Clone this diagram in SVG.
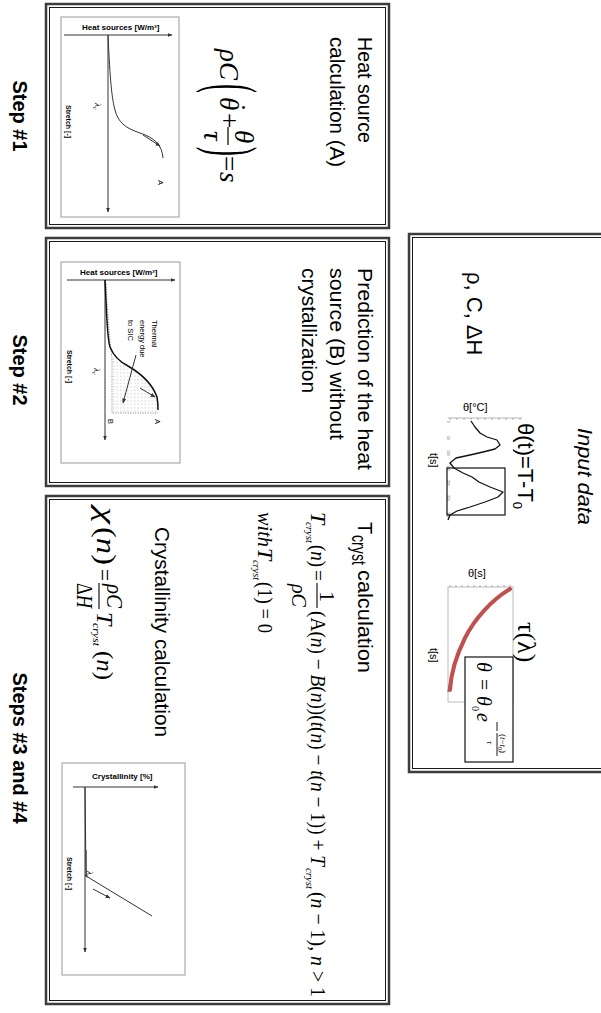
<svg xmlns="http://www.w3.org/2000/svg" width="601" height="1013" viewBox="0 0 601 1013">
<style>
.bo{fill:none;stroke:#3c3c3c;stroke-width:2.5}
.bi{fill:#fff;stroke:#1a1a1a;stroke-width:1}
.sans{font-family:"Liberation Sans",Arial,sans-serif;fill:#000}
.serif{font-family:"Liberation Serif","Times New Roman",serif;fill:#000}
.it{font-style:italic}
.up{font-style:normal}
.step{font-family:"Liberation Sans",Arial,sans-serif;font-weight:bold;font-size:20px;text-anchor:middle}
.lbl{font-family:"Liberation Sans",Arial,sans-serif;font-size:20px}
.gbox{fill:none;stroke:#9a9a9a;stroke-width:1}
.ax{fill:none;stroke:#333;stroke-width:1;marker-end:url(#ah)}
.cv{fill:none;stroke:#333;stroke-width:1}
.axl{font-family:"Liberation Sans",Arial,sans-serif;font-weight:bold;font-size:8px}
.st{font-family:"Liberation Sans",Arial,sans-serif;font-weight:bold;font-size:7px}
.sm{font-family:"Liberation Sans",Arial,sans-serif;font-size:7.5px}
.lam{font-family:"Liberation Serif",serif;font-style:italic;font-size:9px}
.tk{stroke:#777;stroke-width:0.6}
.tl{font-family:"Liberation Sans",Arial,sans-serif;font-size:3.5px;fill:#555}
</style>
<defs>
<marker id="ah" viewBox="0 0 10 10" refX="9" refY="5" markerWidth="5" markerHeight="5" orient="auto"><path d="M0,1 L10,5 L0,9 z" fill="#333"/></marker>
<pattern id="dots" width="3.5" height="3.5" patternUnits="userSpaceOnUse"><circle cx="1.75" cy="1.75" r="0.45" fill="#777"/></pattern>
</defs>
<rect width="601" height="1013" fill="#fff"/>

<g id="step-labels">
<text class="step" transform="translate(13,116) rotate(90)">Step #1</text>
<text class="step" transform="translate(13,370) rotate(90)">Step #2</text>
<text class="step" transform="translate(13,748) rotate(90)">Steps #3 and #4</text>
</g>

<g id="connectors"></g>

<g id="step1">
<rect class="bo" x="46" y="4" width="343" height="224"/>
<rect class="bi" x="49.5" y="7.5" width="336" height="217"/>
<text class="lbl" transform="translate(358,37) rotate(90)" textLength="106" lengthAdjust="spacingAndGlyphs">Heat source</text>
<text class="lbl" transform="translate(330,37) rotate(90)" textLength="130" lengthAdjust="spacingAndGlyphs">calculation (A)</text>
<g class="serif it" font-size="27" transform="translate(220,0) rotate(90)">
<text x="49" y="0">ρC</text>
<text class="up" transform="translate(84,10) scale(1,2.5)">(</text>
<text x="97" y="0">θ</text>
<text class="up" x="103" y="-7">˙</text>
<text class="up" x="113" y="0">+</text>
<text x="130" y="-15">θ</text>
<line x1="127" y1="-8" x2="145" y2="-8" stroke="#000" stroke-width="1.2"/>
<text x="131" y="16">τ</text>
<text class="up" transform="translate(147,10) scale(1,2.5)">)</text>
<text class="up" x="156" y="0">=</text>
<text x="172" y="0">s</text>
</g>
<g id="graph1">
<rect class="gbox" x="61" y="17" width="118" height="200"/>
<text class="axl" x="82" y="30">Heat sources [W/m³]</text>
<line class="ax" x1="64" y1="35" x2="172" y2="35"/>
<line class="ax" x1="108" y1="35" x2="108" y2="212"/>
<path class="cv" d="M108,35 C110,80 112,100 115,110 C118,122 125,128 140,133 C155,138 162,145 163,158"/>
<line class="ax" x1="143" y1="135" x2="160" y2="146"/>
<text class="sm" transform="translate(158,180) rotate(90)">A</text>
<text class="lam" transform="translate(95,103) rotate(90)">λ<tspan font-size="5.5" dy="2">c</tspan></text>
<text class="st" transform="translate(66,105) rotate(90)">Stretch [-]</text>
</g>
</g>

<g id="step2">
<rect class="bo" x="46" y="238" width="343" height="248"/>
<rect class="bi" x="49.5" y="241.5" width="336" height="241"/>
<text class="lbl" transform="translate(358,268) rotate(90)" textLength="202" lengthAdjust="spacingAndGlyphs">Prediction of the heat</text>
<text class="lbl" transform="translate(330,268) rotate(90)" textLength="172" lengthAdjust="spacingAndGlyphs">source (B) without</text>
<text class="lbl" transform="translate(302,268) rotate(90)" textLength="125" lengthAdjust="spacingAndGlyphs">crystallization</text>
<g id="graph2">
<rect class="gbox" x="61" y="262" width="119" height="201"/>
<text class="axl" x="80" y="275">Heat sources [W/m³]</text>
<line class="ax" x1="67" y1="280" x2="175" y2="280"/>
<line class="ax" x1="105" y1="280" x2="105" y2="440"/>
<path d="M112,356 C116,360 122,363 128,366 C140,373 152,383 157,397 C158,402 158,408 158,413 L112,413 Z" fill="url(#dots)"/>
<path d="M106,284 C108,320 110,345 112,358 L112,413 L158,413" fill="none" stroke="#555" stroke-width="0.8" stroke-dasharray="1,1.5"/>
<path d="M105,280 C107,320 107,338 110,347 C114,357 122,363 128,366 C140,373 152,383 157,397 C158,402 158,406 158,410" fill="none" stroke="#111" stroke-width="1.5"/>
<line class="ax" x1="140" y1="388" x2="155" y2="397"/>
<line class="ax" x1="136" y1="355" x2="123" y2="403"/>
<text class="sm" transform="translate(152,320) rotate(90)">Thermal</text>
<text class="sm" transform="translate(140,320) rotate(90)">energy due</text>
<text class="sm" transform="translate(128,320) rotate(90)">to SIC</text>
<text class="sm" transform="translate(155,419) rotate(90)">A</text>
<text class="sm" transform="translate(108,419) rotate(90)">B</text>
<text class="lam" transform="translate(94,368) rotate(90)">λ<tspan font-size="5.5" dy="2">c</tspan></text>
<text class="st" transform="translate(67,350) rotate(90)">Stretch [-]</text>
</g>
</g>

<g id="steps34">
<rect class="bo" x="46" y="496" width="343" height="508"/>
<rect class="bi" x="49.5" y="499.5" width="336" height="501"/>
<text class="lbl" transform="translate(358,522) rotate(90)">T</text>
<text class="lbl" font-size="13" transform="translate(352,535) rotate(90)" textLength="30" lengthAdjust="spacingAndGlyphs">cryst</text>
<text class="lbl" transform="translate(358,570) rotate(90)" textLength="103" lengthAdjust="spacingAndGlyphs">calculation</text>
<g class="serif" font-size="22" transform="translate(311,0) rotate(90)">
<text class="it" x="512" y="0">T</text>
<text class="it" x="522" y="5" font-size="11" textLength="21" lengthAdjust="spacingAndGlyphs">cryst</text>
<text x="545" y="0" textLength="22" lengthAdjust="spacingAndGlyphs">(<tspan class="it">n</tspan>)</text>
<text x="570" y="0" textLength="11" lengthAdjust="spacingAndGlyphs">=</text>
<text x="591" y="-9">1</text>
<line x1="583" y1="-6" x2="608" y2="-6" stroke="#000" stroke-width="1.1"/>
<text class="it" x="584" y="19" textLength="23" lengthAdjust="spacingAndGlyphs">ρC</text>
<text x="611" y="0" textLength="255" lengthAdjust="spacingAndGlyphs">(A(<tspan class="it">n</tspan>) − <tspan class="it">B</tspan>(<tspan class="it">n</tspan>))(<tspan class="it">t</tspan>(<tspan class="it">n</tspan>) − <tspan class="it">t</tspan>(<tspan class="it">n</tspan> − 1)) + <tspan class="it">T</tspan></text>
<text class="it" x="868" y="5" font-size="11" textLength="21" lengthAdjust="spacingAndGlyphs">cryst</text>
<text x="892" y="0" textLength="105" lengthAdjust="spacingAndGlyphs">(<tspan class="it">n</tspan> − 1), <tspan class="it">n</tspan> &gt; 1</text>
</g>
<g class="serif" font-size="22" transform="translate(258,0) rotate(90)">
<text class="it" x="512" y="0" textLength="35" lengthAdjust="spacingAndGlyphs">with</text>
<text class="it" x="548" y="0">T</text>
<text class="it" x="560" y="5" font-size="11" textLength="20" lengthAdjust="spacingAndGlyphs">cryst</text>
<text x="582" y="0" textLength="51" lengthAdjust="spacingAndGlyphs">(1) = 0</text>
</g>
<text class="lbl" transform="translate(155,527) rotate(90)" textLength="210" lengthAdjust="spacingAndGlyphs">Crystallinity calculation</text>
<g class="serif" font-size="24" transform="translate(97,0) rotate(90)">
<text class="it" x="507" y="0" font-size="28" textLength="17" lengthAdjust="spacingAndGlyphs">χ</text>
<text x="527" y="0" font-size="27" textLength="38" lengthAdjust="spacingAndGlyphs">(<tspan class="it">n</tspan>)</text>
<text x="569" y="0" textLength="12" lengthAdjust="spacingAndGlyphs">=</text>
<text class="it" x="584" y="-10" textLength="24" lengthAdjust="spacingAndGlyphs">ρC</text>
<line x1="583" y1="-2" x2="609" y2="-2" stroke="#000" stroke-width="1.1"/>
<text x="583" y="20" textLength="25" lengthAdjust="spacingAndGlyphs">Δ<tspan class="it">H</tspan></text>
<text class="it" x="612" y="0">T</text>
<text class="it" x="623" y="4" font-size="11" textLength="23" lengthAdjust="spacingAndGlyphs">cryst</text>
<text x="651" y="0" textLength="29" lengthAdjust="spacingAndGlyphs">(<tspan class="it">n</tspan>)</text>
</g>
<g id="graph3">
<rect class="gbox" x="62" y="763" width="123" height="212"/>
<text class="axl" x="92" y="779">Crystallinity [%]</text>
<line class="ax" x1="73" y1="787" x2="158" y2="787"/>
<line class="ax" x1="85" y1="787" x2="85" y2="952"/>
<line x1="86" y1="850" x2="86" y2="877" stroke="#888" stroke-width="2"/>
<path class="cv" d="M85,787 L86,876 L152,916"/>
<line class="ax" x1="93" y1="889" x2="110" y2="898"/>
<text class="lam" transform="translate(87,871) rotate(90)">λ<tspan font-size="5.5" dy="2">c</tspan></text>
<text class="st" transform="translate(67,857) rotate(90)">Stretch [-]</text>
</g>
</g>

<g id="input-data">
<rect class="bo" x="409" y="234" width="200" height="538"/>
<rect class="bi" x="412.5" y="237.5" width="200" height="531"/>
<text class="sans it" font-size="20" transform="translate(578,428) rotate(90)" textLength="97" lengthAdjust="spacingAndGlyphs">Input data</text>
<text class="sans" font-size="22" transform="translate(467,272) rotate(90)">ρ, C, ΔH</text>
<text class="sans" font-size="22" transform="translate(518,423) rotate(90)">θ(t)=T-T<tspan font-size="13" dy="5">0</tspan></text>
<g id="temp-chart">
<line x1="448" y1="418" x2="522" y2="418" stroke="#888" stroke-width="0.6"/>
<path class="tk" d="M450,418v2M457,418v2M464,418v2M471,418v2M478,418v2M485,418v2M492,418v2M499,418v2M506,418v2M513,418v2M520,418v2"/>
<text class="tl" transform="translate(447,421) rotate(90)">0</text>
<text class="tl" transform="translate(447,436) rotate(90)">50</text>
<text class="tl" transform="translate(447,450) rotate(90)">100</text>
<text class="tl" transform="translate(447,465) rotate(90)">150</text>
<text class="tl" transform="translate(447,480) rotate(90)">200</text>
<text class="tl" transform="translate(447,495) rotate(90)">250</text>
<text class="tl" transform="translate(447,512) rotate(90)">300</text>
<polyline points="471,421 475,427 480,433 487,437 497,440 500,445 495,449 483,452 470,455 456,458 450,463 454,468 463,473 472,477 479,482 490,487 503,492 498,497 485,502 470,507 457,511 450,515 448,520" fill="none" stroke="#111" stroke-width="1.3" stroke-linejoin="round"/>
<rect x="447" y="468" width="58" height="47" fill="none" stroke="#111" stroke-width="1.2"/>
<text class="sans" font-size="11" x="463" y="411">θ[°C]</text>
<text class="sans" font-size="11" transform="translate(430,453) rotate(90)">t[s]</text>
</g>
<g id="tau-chart">
<rect x="448" y="587" width="65" height="115" fill="none" stroke="#aaa" stroke-width="0.8"/>
<path class="tk" d="M450,587v-2M456,587v-2M462,587v-2M468,587v-2M474,587v-2M480,587v-2M486,587v-2M492,587v-2M498,587v-2M504,587v-2M510,587v-2"/>
<path d="M511,588 C493,599 476,617 466,637 C457,655 451,671 448,692" fill="none" stroke="#4f81bd" stroke-width="1.5"/>
<path d="M510,589 C492,600 475,618 465,638 C456,656 451,672 450,690" fill="none" stroke="#c0504d" stroke-width="4" stroke-linecap="round"/>
<text class="sans" font-size="11" x="468" y="577">θ[s]</text>
<text class="sans" font-size="11" transform="translate(430,648) rotate(90)">t[s]</text>
<rect x="465" y="657" width="48" height="105" fill="#fff" stroke="#111" stroke-width="1.2"/>
<g class="serif" font-size="20" transform="translate(477,0) rotate(90)">
<text class="it" x="662" y="0">θ</text>
<text x="679" y="0">=</text>
<text class="it" x="696" y="0">θ</text>
<text x="706" y="5" font-size="10">0</text>
<text class="it" x="713" y="0">e</text>
<line x1="722" y1="-20" x2="731" y2="-20" stroke="#000" stroke-width="0.9"/>
<line x1="733" y1="-20" x2="756" y2="-20" stroke="#000" stroke-width="0.9"/>
<text x="734" y="-23" font-size="9">(<tspan class="it">t</tspan>−<tspan class="it">t</tspan><tspan font-size="6" dy="2">0</tspan><tspan dy="-2">)</tspan></text>
<text class="it" x="741" y="-10" font-size="9">τ</text>
</g>
</g>
<text class="serif" font-size="26" transform="translate(518,622) rotate(90)">τ(λ)</text>
</g>
</svg>
